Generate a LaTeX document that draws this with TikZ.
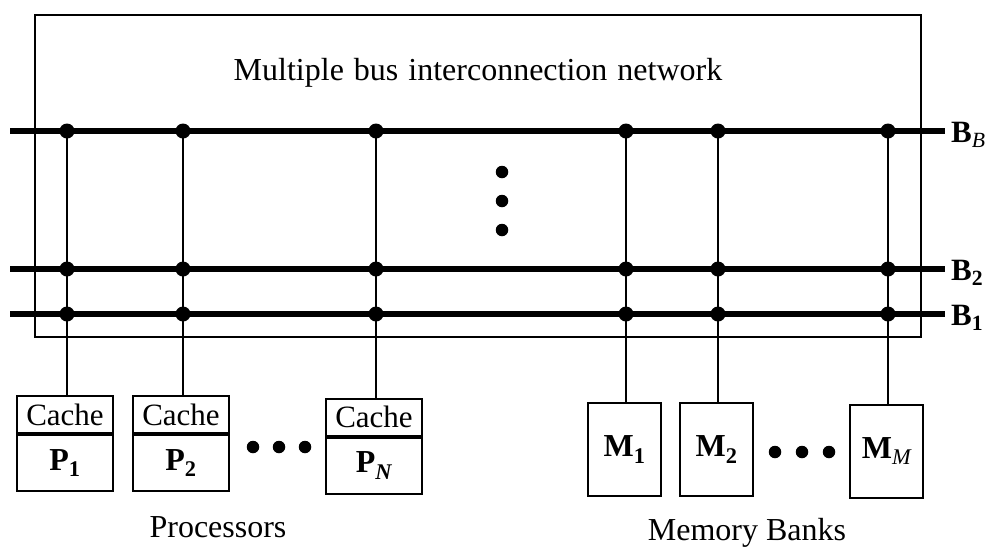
\documentclass[tikz,border=0pt]{standalone}
\usepackage{fontspec}
\setmainfont{Liberation Serif}
\begin{document}
\begin{tikzpicture}[x=1pt,y=-1pt,
  frame/.style={line width=2pt},
  bus/.style={line width=5.5pt},
  tap/.style={line width=2pt},
  junction/.style={circle,fill=black,inner sep=0pt,minimum size=15pt},
  gapdot/.style={circle,fill=black,inner sep=0pt,minimum size=12.5pt},
  cachebox/.style={draw,line width=2pt,minimum width=96pt,minimum height=37pt,inner sep=0pt,
    font=\fontsize{31}{31}\selectfont},
  procbox/.style={draw,line width=2pt,minimum width=96pt,minimum height=56pt,inner sep=0pt,
    font=\fontsize{32}{32}\selectfont\bfseries},
  membox/.style={draw,line width=2pt,minimum width=73pt,minimum height=93pt,inner sep=0pt,
    font=\fontsize{32}{32}\selectfont\bfseries},
  buslabel/.style={anchor=base west,inner sep=0pt,font=\fontsize{31}{31}\selectfont\bfseries},
  caption/.style={anchor=base,inner sep=0pt,font=\fontsize{32}{32}\selectfont}
]
\useasboundingbox (0,0) rectangle (988,550);

% network enclosure and its title
\draw[frame] (35,15) rectangle (921,337);
\node[caption] (title) at (478,80)
  {Multiple\hspace{10pt}bus\hspace{10pt}interconnection\hspace{10pt}network};

% the three buses drawn
\foreach \b/\y in {BB/131,B2/269,B1/314}{
  \coordinate (\b-w) at (10,\y);
  \coordinate (\b-e) at (945,\y);
  \draw[bus] (\b-w) -- (\b-e);
}
\node[buslabel] (lblBB) at ([shift={(6,11)}]BB-e) {B\textsubscript{\mdseries\itshape B}};
\node[buslabel] (lblB2) at ([shift={(6,11)}]B2-e) {B\textsubscript{2}};
\node[buslabel] (lblB1) at ([shift={(6,11)}]B1-e) {B\textsubscript{1}};

% further buses left out
\node[gapdot] (vd1) at (502,172) {};
\node[gapdot] (vd2) at (502,201) {};
\node[gapdot] (vd3) at (502,230) {};

% processors with their caches
\node[cachebox] (c1) at (65,414.5) {Cache};
\node[procbox, anchor=north] (p1) at (c1.south) {P\textsubscript{1}};
\node[cachebox] (c2) at (181,414.5) {Cache};
\node[procbox, anchor=north] (p2) at (c2.south) {P\textsubscript{2}};
\node[cachebox] (cN) at (374,417) {Cache};
\node[procbox, anchor=north] (pN) at (cN.south) {P\textsubscript{\itshape N}};
\foreach \c in {c1,c2,cN}{
  \draw[line width=3.5pt] (\c.south west) -- (\c.south east);
}
\node[gapdot] (pd1) at (253,447) {};
\node[gapdot] (pd2) at (279,447) {};
\node[gapdot] (pd3) at (305,447) {};
\node[caption] (proclbl) at (218,537) {Processors};

% memory banks
\node[membox] (m1) at (624.5,449.5) {M\textsubscript{1}};
\node[membox] (m2) at (716.5,449.5) {M\textsubscript{2}};
\node[membox] (mM) at (886.5,451) {M\textsubscript{\mdseries\itshape M}};
\node[gapdot] (md1) at (775,452) {};
\node[gapdot] (md2) at (802,452) {};
\node[gapdot] (md3) at (829,452) {};
\node[caption] (memlbl) at (747,540) {Memory Banks};

% taps from every bus to each processor and memory bank
\foreach \i/\x/\t in {1/67/c1,2/183/c2,3/376/cN,4/626/m1,5/718/m2,6/888/mM}{
  \coordinate (tap\i) at (\x,131);
  \draw[tap] (tap\i) -- (tap\i |- \t.north);
  \foreach \b in {BB,B2,B1}{
    \node[junction] (j\i\b) at (tap\i |- \b-w) {};
  }
}
\end{tikzpicture}
\end{document}
